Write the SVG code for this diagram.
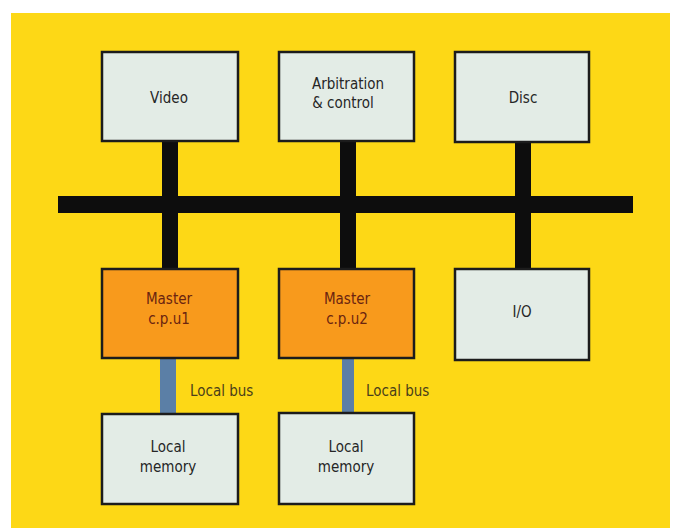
<svg xmlns="http://www.w3.org/2000/svg" width="678" height="528" viewBox="0 0 678 528">
<style>
.box{fill:#e3ece6;stroke:#1c1c1c;stroke-width:2.5}
.cpu{fill:#f89a1c;stroke:#1c1c1c;stroke-width:2.5}
.t{font-family:"DejaVu Sans Condensed","DejaVu Sans","Liberation Sans",sans-serif;font-size:15px;fill:#262626;text-anchor:middle}
.tc{font-family:"DejaVu Sans Condensed","DejaVu Sans","Liberation Sans",sans-serif;font-size:15px;fill:#6a2410;text-anchor:middle}
.lb{font-family:"DejaVu Sans Condensed","DejaVu Sans","Liberation Sans",sans-serif;font-size:15px;fill:#4a3f1a}
.bus{fill:#0d0d0d}
.lbus{fill:#5b7fa6}
</style>
<rect width="678" height="528" fill="#ffffff"/>
<rect x="11" y="13" width="659" height="515" fill="#fdd816"/>
<g id="connectors">
<rect class="bus" x="58" y="196" width="575" height="17"/>
<rect class="bus" x="162" y="141" width="16" height="128"/>
<rect class="bus" x="340" y="141" width="16" height="128"/>
<rect class="bus" x="515" y="141" width="16" height="128"/>
<rect class="lbus" x="160" y="359" width="16" height="55"/>
<rect class="lbus" x="342" y="359" width="12" height="55"/>
<text class="lb" x="190" y="396">Local bus</text>
<text class="lb" x="366" y="396">Local bus</text>
</g>
<g id="video">
<rect class="box" x="102" y="52" width="136" height="89"/>
<text class="t" x="169" y="103">Video</text>
</g>
<g id="arbitration">
<rect class="box" x="279" y="52" width="135" height="89"/>
<text class="t" x="348" y="89">Arbitration</text>
<text class="t" x="343" y="108">&amp; control</text>
</g>
<g id="disc">
<rect class="box" x="455" y="52" width="134" height="90"/>
<text class="t" x="523" y="103">Disc</text>
</g>
<g id="cpu1">
<rect class="cpu" x="102" y="269" width="136" height="89"/>
<text class="tc" x="169" y="304">Master</text>
<text class="tc" x="169" y="324">c.p.u1</text>
</g>
<g id="cpu2">
<rect class="cpu" x="279" y="269" width="135" height="89"/>
<text class="tc" x="347" y="304">Master</text>
<text class="tc" x="347" y="324">c.p.u2</text>
</g>
<g id="io">
<rect class="box" x="455" y="269" width="134" height="91"/>
<text class="t" x="522" y="317">I/O</text>
</g>
<g id="mem1">
<rect class="box" x="102" y="414" width="136" height="90"/>
<text class="t" x="168" y="452">Local</text>
<text class="t" x="168" y="472">memory</text>
</g>
<g id="mem2">
<rect class="box" x="279" y="413" width="135" height="91"/>
<text class="t" x="346" y="452">Local</text>
<text class="t" x="346" y="472">memory</text>
</g>
</svg>
